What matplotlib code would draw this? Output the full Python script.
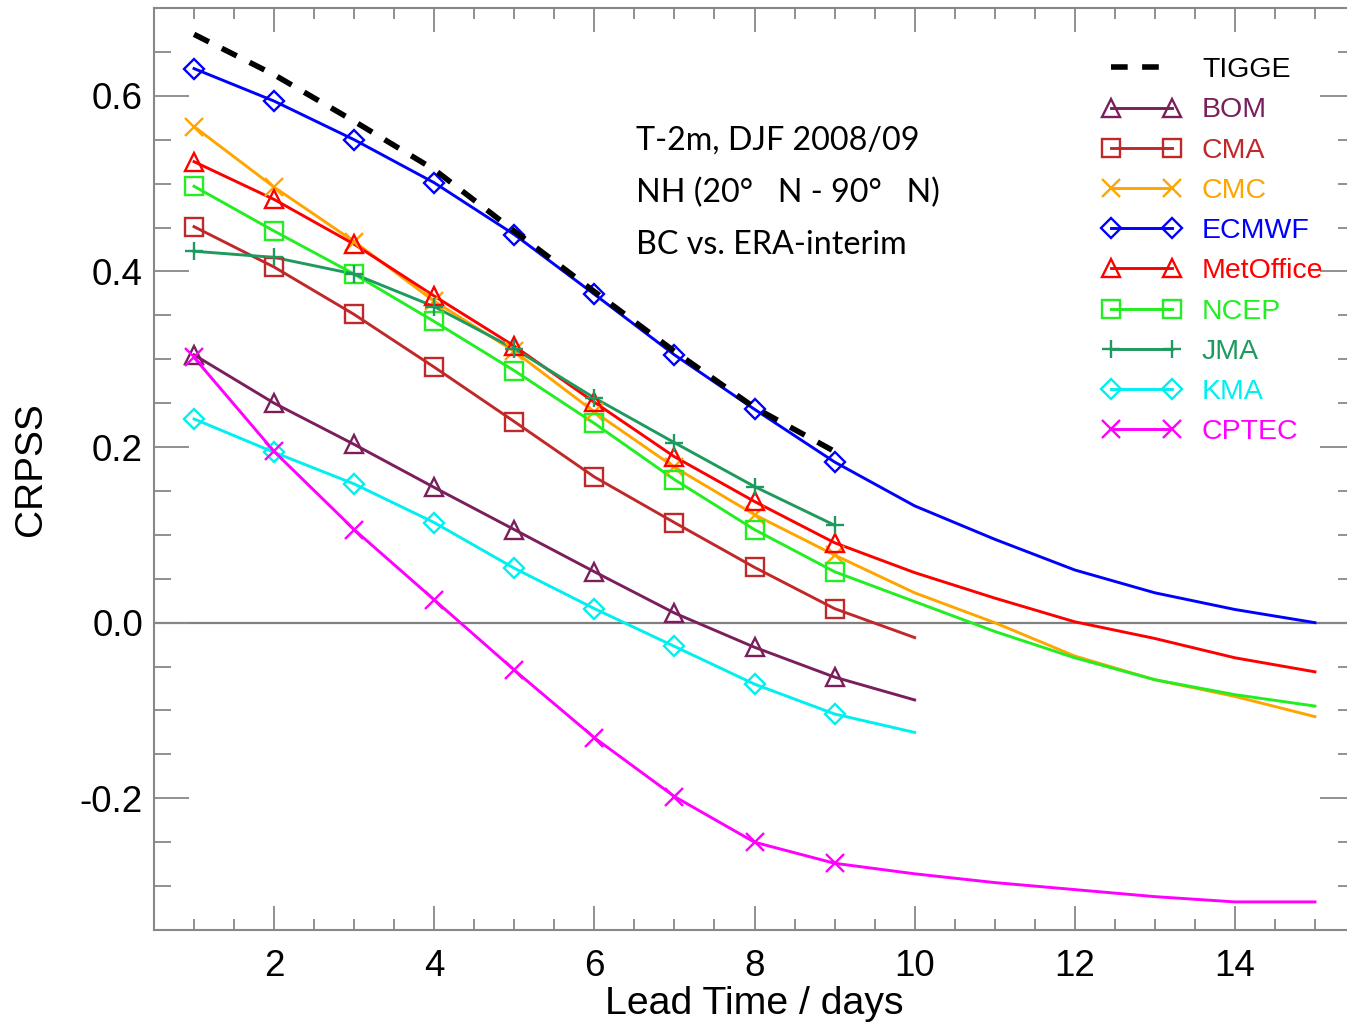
import matplotlib
matplotlib.use("Agg")
import matplotlib.pyplot as plt
from matplotlib.ticker import MultipleLocator

days15 = list(range(1, 16))
days10 = list(range(1, 11))
days9 = list(range(1, 10))

tigge = [0.670, 0.624, 0.571, 0.516, 0.446, 0.377, 0.309, 0.245, 0.195]
bom = [0.305, 0.250, 0.203, 0.154, 0.106, 0.058, 0.011, -0.028, -0.062, -0.088]
cma = [0.451, 0.405, 0.351, 0.291, 0.229, 0.166, 0.114, 0.063, 0.016, -0.017]
cmc = [0.565, 0.496, 0.434, 0.366, 0.309, 0.240, 0.177, 0.123, 0.077, 0.034,
       0.000, -0.038, -0.065, -0.084, -0.107]
ecmwf = [0.631, 0.594, 0.550, 0.501, 0.442, 0.374, 0.305, 0.243, 0.183, 0.133,
         0.095, 0.060, 0.034, 0.015, 0.000]
metoffice = [0.525, 0.482, 0.431, 0.372, 0.315, 0.251, 0.189, 0.138, 0.091, 0.057,
             0.028, 0.001, -0.018, -0.040, -0.056]
ncep = [0.497, 0.446, 0.397, 0.343, 0.287, 0.227, 0.163, 0.106, 0.058, 0.024,
        -0.010, -0.040, -0.065, -0.082, -0.095]
jma = [0.423, 0.416, 0.397, 0.360, 0.312, 0.256, 0.205, 0.155, 0.111]
kma = [0.232, 0.194, 0.158, 0.114, 0.062, 0.016, -0.027, -0.070, -0.104, -0.125]
cptec = [0.302, 0.195, 0.106, 0.026, -0.054, -0.131, -0.198, -0.250, -0.274, -0.286,
         -0.296, -0.304, -0.312, -0.318, -0.318]

series = [
    ("BOM", days10, bom, "#7a1f5c", "^"),
    ("CMA", days10, cma, "#c0282a", "s"),
    ("CMC", days15, cmc, "#ffa500", "x"),
    ("ECMWF", days15, ecmwf, "#0000ff", "D"),
    ("MetOffice", days15, metoffice, "#ff0000", "^"),
    ("NCEP", days15, ncep, "#22ee22", "s"),
    ("JMA", days9, jma, "#1f9a5f", "+"),
    ("KMA", days10, kma, "#00f0f0", "D"),
    ("CPTEC", days15, cptec, "#ff00ff", "x"),
]

plt.rcParams['font.family'] = ['Liberation Sans', 'DejaVu Sans']

fig = plt.figure(figsize=(13.47, 10.29), dpi=100)
ax = fig.add_axes([154/1347, 1-930/1029, (1355-154)/1347, (930-8)/1029])

ax.axhline(0, color="#808080", lw=1.6, zorder=1)

handles = []
h, = ax.plot(days9, tigge, color="black", lw=4, ls=(0, (3, 2.6)), label="TIGGE", zorder=5)
handles.append(h)
for name, d, v, c, m in series:
    ms = 10 if m == "D" else 12.5
    n = min(9, len(d))
    ax.plot(d, v, color=c, lw=2.1, zorder=3)
    ax.plot(d[:n], v[:n], ls="none", marker=m, ms=ms, mfc="none", mec=c, mew=1.7, zorder=4)
    hh, = ax.plot([], [], color=c, lw=2.1, marker=m, ms=ms, mfc="none", mec=c, mew=1.7, label=name)
    handles.append(hh)

ax.set_xlim(0.5, 15.5)
ax.set_ylim(-0.35, 0.70)
ax.xaxis.set_minor_locator(MultipleLocator(0.5))
ax.yaxis.set_minor_locator(MultipleLocator(0.05))
ax.set_xticks([2, 4, 6, 8, 10, 12, 14])
ax.set_yticks([-0.2, 0.0, 0.2, 0.4, 0.6])
ax.set_yticklabels(["-0.2", "0.0", "0.2", "0.4", "0.6"])

gray = "#888888"
for s in ax.spines.values():
    s.set_color(gray)
    s.set_linewidth(1.5)
ax.tick_params(axis="both", which="both", direction="in", top=True, right=True,
               color=gray, width=1.3, labelsize=26.5, labelcolor="black")
ax.tick_params(axis="x", which="major", length=17, pad=14)
ax.tick_params(axis="x", which="minor", length=8)
ax.tick_params(axis="y", which="major", length=25, pad=8)
ax.tick_params(axis="y", which="minor", length=12)

ax.set_xlabel("Lead Time / days", fontsize=28.3, labelpad=1)
ax.set_ylabel("CRPSS", fontsize=28, labelpad=22)

fig.text(636/1347, 1-126/1029, "T-2m, DJF 2008/09\nNH (20°   N - 90°   N)\nBC vs. ERA-interim",
         fontsize=23.2, family=["Lato", "DejaVu Sans"],
         va="top", ha="left", linespacing=1.9)

leg = ax.legend(handles=handles, loc="upper left", bbox_to_anchor=(1088/1347, 1-43/1029),
                bbox_transform=fig.transFigure, frameon=False, fontsize=20.5,
                numpoints=2, handlelength=2.75, handletextpad=0.75, labelspacing=0.5,
                labelcolor="linecolor", borderpad=0)

fig.savefig("out.png", dpi=100)
